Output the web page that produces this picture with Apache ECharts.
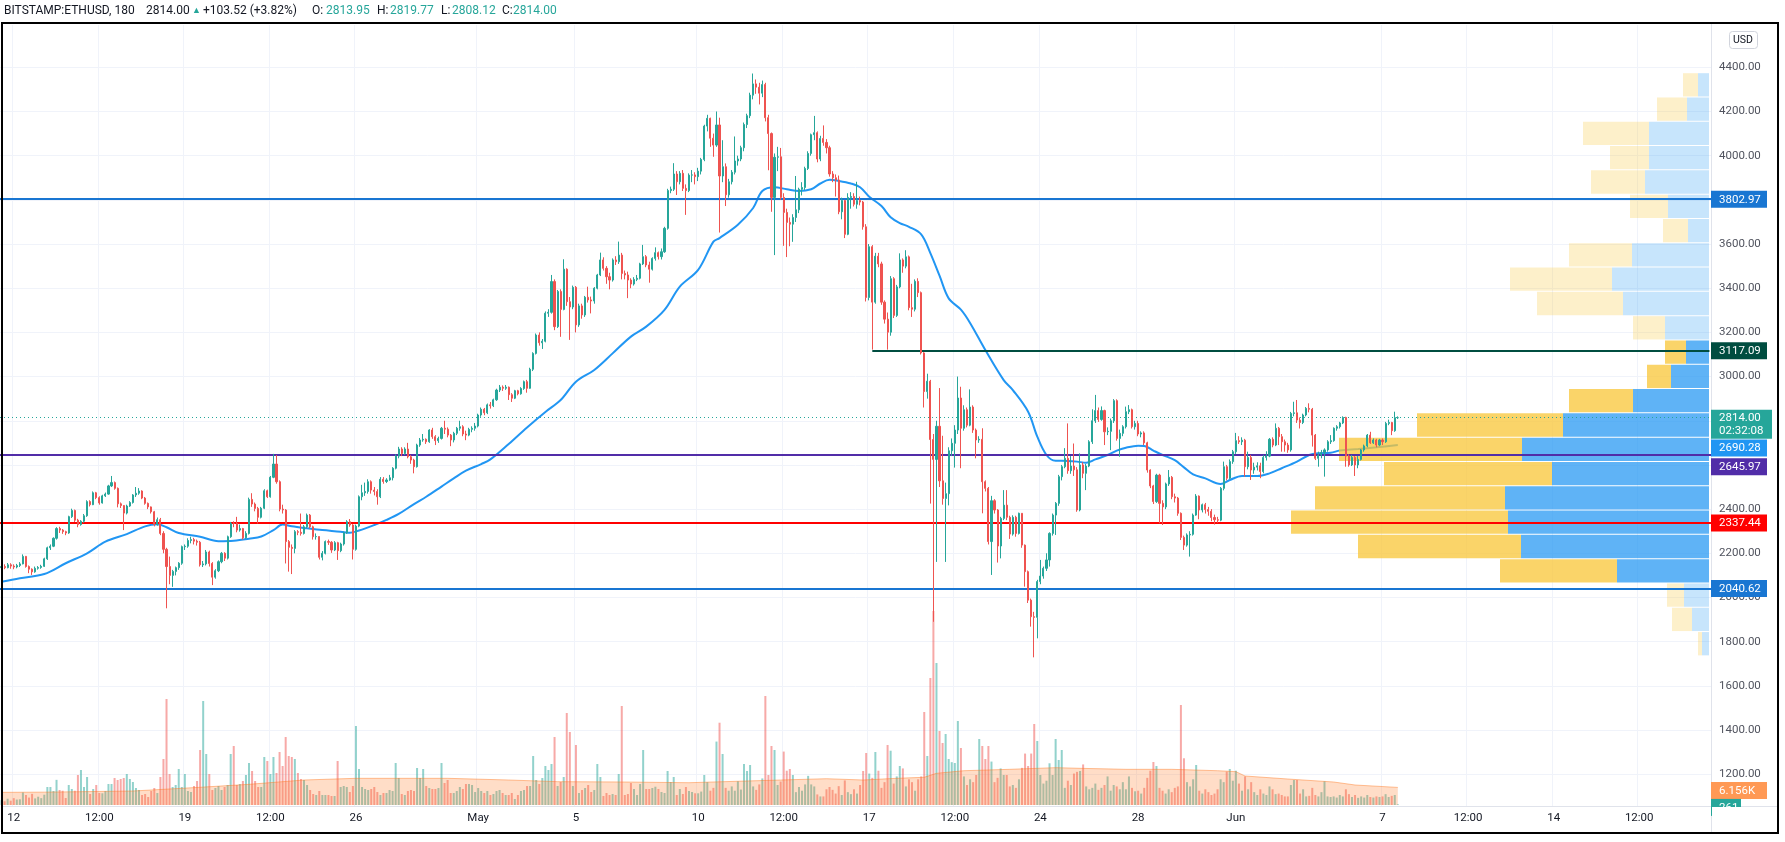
<!DOCTYPE html>
<html><head><meta charset="utf-8">
<script src="https://cdn.jsdelivr.net/npm/echarts@6/dist/echarts.min.js"></script>
<style>html,body{margin:0;padding:0;background:#fff;}#c{width:1785px;height:842px;}</style>
</head><body><div id="c"></div>
<script>
// ---------------- DATA (3h candles, BITSTAMP:ETHUSD) ----------------
const firstBar = -4;          // bar index of first candle (Apr 11 12:00); bar 0 = Apr 12 00:00
const lastSlot = 555;         // last (empty) slot visible on the time axis
const firstOpen = 2135;
const closes = [
2140,2135,2148,2142,
2138,2145,2152,2186,2140,2128,2116,2132,
2136,2141,2175,2225,2232,2268,2312,2305,
2298,2292,2366,2394,2350,2330,2345,2370,
2434,2420,2474,2452,2428,2460,2468,2505,
2520,2494,2424,2416,2382,2414,2430,2464,
2472,2482,2450,2426,2410,2388,2330,2352,
2290,2218,2140,2100,2118,2135,2155,2230,
2232,2258,2262,2255,2250,2148,2152,2206,
2154,2092,2121,2162,2200,2178,2275,2336,
2335,2305,2312,2270,2290,2444,2423,2403,
2363,2404,2483,2456,2544,2604,2524,2400,
2396,2253,2227,2222,2298,2295,2290,2320,
2373,2320,2275,2276,2182,2200,2253,2250,
2215,2248,2212,2242,2293,2343,2328,2218,
2323,2456,2474,2480,2524,2486,2480,2456,
2535,2525,2532,2542,2585,2640,2672,2652,
2672,2637,2622,2592,2690,2713,2716,2705,
2758,2728,2710,2720,2766,2762,2735,2713,
2743,2766,2773,2740,2735,2761,2766,2776,
2826,2852,2836,2872,2868,2895,2939,2952,
2947,2952,2918,2902,2936,2922,2946,2977,
2947,3033,3105,3188,3153,3160,3287,3291,
3430,3226,3385,3304,3486,3339,3315,3404,
3234,3320,3279,3359,3347,3342,3400,3460,
3528,3490,3452,3437,3528,3520,3550,3467,
3460,3437,3419,3440,3445,3510,3543,3505,
3486,3535,3561,3543,3565,3671,3842,3848,
3917,3882,3920,3852,3842,3912,3913,3905,
3930,3983,4134,4169,4079,4048,4139,3908,
3950,3823,3882,3925,3976,3985,4036,4141,
4181,4274,4325,4310,4283,4322,4172,4100,
3811,3993,3995,3811,3743,3698,3690,3720,
3755,3848,3856,3942,4010,4095,4104,3985,
4078,4060,4036,3917,3900,3890,3746,3797,
3644,3811,3815,3780,3797,3790,3678,3358,
3588,3337,3545,3510,3337,3260,3201,3443,
3277,3406,3528,3500,3542,3312,3305,3431,
3380,3107,2932,2979,2715,2625,2775,2528,
2448,2470,2664,2698,2758,2903,2766,2850,
2780,2862,2758,2713,2716,2524,2494,2253,
2438,2396,2233,2358,2418,2363,2287,2363,
2290,2381,2237,2117,1988,1913,1910,2072,
2097,2132,2170,2290,2373,2426,2547,2592,
2630,2574,2595,2578,2396,2600,2562,2595,
2705,2800,2846,2806,2846,2750,2752,2800,
2891,2720,2743,2773,2841,2850,2773,2788,
2740,2745,2700,2577,2505,2434,2554,2426,
2410,2514,2544,2456,2450,2381,2272,2237,
2283,2286,2373,2459,2396,2420,2398,2390,
2362,2352,2350,2494,2592,2540,2615,2660,
2710,2705,2712,2592,2634,2577,2590,2596,
2570,2634,2640,2716,2690,2766,2728,2705,
2690,2668,2833,2836,2803,2792,2826,2856,
2852,2735,2630,2645,2655,2668,2705,2710,
2766,2773,2790,2815,2640,2600,2634,2600,
2625,2668,2686,2735,2700,2713,2690,2713,
2705,2788,2792,2755,2814,2814
];
const highs = [
2152,2150,2156,2155,
2150,2152,2160,2195,2188,2145,2132,2140,
2142,2148,2180,2230,2240,2272,2318,2320,
2310,2302,2370,2402,2398,2356,2350,2378,
2440,2440,2480,2478,2458,2465,2475,2510,
2550,2525,2498,2430,2418,2420,2436,2468,
2500,2495,2485,2455,2430,2412,2392,2362,
2360,2300,2225,2185,2125,2140,2160,2235,
2240,2268,2275,2270,2262,2256,2165,2215,
2212,2160,2128,2168,2206,2205,2280,2342,
2345,2365,2330,2315,2300,2452,2472,2430,
2410,2410,2490,2488,2550,2650,2645,2530,
2420,2400,2260,2240,2305,2305,2380,2328,
2380,2378,2325,2290,2275,2210,2258,2262,
2255,2255,2252,2248,2298,2350,2355,2332,
2330,2462,2510,2520,2535,2530,2500,2490,
2545,2545,2540,2555,2590,2648,2682,2680,
2680,2700,2645,2628,2696,2722,2740,2720,
2762,2768,2735,2728,2772,2800,2770,2740,
2750,2772,2800,2780,2755,2768,2775,2790,
2832,2860,2858,2878,2885,2900,2945,2962,
2960,2962,2955,2925,2940,2940,2952,2982,
2985,3040,3110,3195,3200,3170,3295,3305,
3460,3440,3392,3395,3531,3490,3360,3412,
3410,3330,3330,3365,3407,3362,3405,3465,
3561,3540,3500,3470,3535,3545,3611,3560,
3480,3475,3445,3450,3460,3515,3596,3550,
3520,3540,3585,3566,3580,3678,3850,3860,
3966,3930,3930,3935,3870,3920,3935,3925,
3945,3990,4140,4185,4172,4100,4200,4172,
4070,3965,3895,3935,4087,4000,4045,4150,
4190,4285,4372,4345,4330,4340,4330,4185,
4105,4010,4040,4035,3830,3760,3720,3735,
3908,3855,3880,3950,4020,4100,4180,4110,
4090,4137,4075,4045,3930,3915,3910,3810,
3800,3830,3835,3830,3882,3815,3795,3690,
3600,3595,3560,3560,3520,3345,3290,3455,
3450,3415,3558,3535,3572,3548,3420,3440,
3445,3385,3110,3013,2985,2740,2800,2948,
2732,2520,2680,2720,2780,3000,2954,2870,
2860,2942,2870,2765,2730,2766,2530,2500,
2460,2445,2400,2365,2486,2486,2370,2372,
2370,2384,2381,2240,2122,1995,1935,2080,
2170,2140,2200,2295,2380,2432,2555,2600,
2676,2788,2640,2697,2590,2652,2612,2605,
2712,2852,2917,2860,2865,2850,2770,2810,
2898,2897,2760,2780,2864,2871,2855,2800,
2800,2752,2752,2705,2580,2510,2560,2560,
2440,2520,2577,2550,2470,2455,2385,2280,
2290,2300,2380,2468,2462,2425,2428,2410,
2400,2375,2365,2500,2615,2600,2625,2668,
2745,2730,2725,2718,2660,2645,2610,2612,
2610,2645,2662,2722,2725,2788,2772,2740,
2715,2700,2840,2886,2894,2815,2832,2862,
2879,2858,2740,2660,2668,2675,2712,2735,
2770,2780,2795,2820,2818,2648,2645,2640,
2640,2672,2692,2740,2750,2720,2718,2718,
2720,2795,2805,2795,2841,2819.77
];
const lows = [
2125,2128,2132,2130,
2128,2132,2138,2150,2135,2110,2102,2112,
2126,2130,2138,2170,2215,2228,2262,2292,
2288,2282,2288,2360,2342,2318,2325,2338,
2365,2412,2418,2445,2420,2425,2455,2465,
2500,2488,2408,2405,2305,2376,2410,2425,
2455,2465,2445,2420,2400,2380,2322,2325,
2282,2200,1951,2060,2048,2100,2125,2148,
2215,2225,2245,2240,2235,2140,2138,2145,
2140,2056,2085,2115,2155,2165,2172,2270,
2318,2295,2298,2262,2265,2285,2410,2390,
2335,2358,2400,2450,2452,2540,2515,2390,
2380,2154,2117,2106,2200,2282,2280,2285,
2315,2312,2262,2262,2172,2168,2195,2238,
2202,2210,2170,2205,2235,2288,2320,2172,
2212,2318,2440,2460,2470,2470,2462,2420,
2450,2515,2518,2528,2530,2580,2630,2640,
2645,2630,2605,2562,2588,2682,2705,2695,
2700,2718,2690,2700,2715,2740,2725,2685,
2702,2735,2755,2730,2712,2730,2748,2755,
2770,2818,2825,2830,2855,2862,2890,2930,
2935,2940,2894,2885,2898,2915,2918,2940,
2927,2945,3025,3100,3140,3125,3155,3270,
3285,3210,3220,3180,3300,3320,3166,3305,
3200,3225,3262,3270,3335,3286,3330,3395,
3455,3480,3420,3395,3430,3505,3510,3440,
3440,3355,3400,3412,3432,3440,3505,3495,
3425,3480,3525,3530,3530,3560,3665,3830,
3840,3822,3870,3840,3732,3835,3880,3870,
3885,3915,3975,4110,4040,3995,4040,3652,
3880,3772,3810,3870,3915,3955,3975,4020,
4125,4170,4255,4280,4232,4265,4155,3934,
3746,3550,3930,3800,3592,3541,3590,3610,
3700,3740,3820,3845,3935,4000,4070,3970,
3975,4045,4010,3905,3880,3815,3735,3712,
3627,3640,3760,3770,3760,3775,3665,3340,
3345,3122,3330,3495,3325,3240,3122,3185,
3265,3270,3400,3470,3490,3300,3270,3295,
3360,3100,2860,2900,2425,1890,2161,2500,
2420,2161,2417,2640,2588,2740,2585,2755,
2770,2775,2745,2630,2700,2381,2480,2240,
2102,2380,2158,2177,2350,2350,2265,2280,
2275,2285,2225,2049,1975,1868,1729,1815,
2060,2085,2120,2140,2280,2283,2415,2530,
2585,2560,2560,2550,2388,2390,2540,2486,
2590,2695,2790,2795,2800,2690,2735,2667,
2790,2710,2637,2730,2765,2830,2765,2760,
2730,2725,2690,2565,2495,2423,2428,2336,
2328,2400,2505,2445,2430,2370,2260,2215,
2230,2185,2280,2370,2354,2385,2380,2370,
2345,2330,2338,2345,2485,2530,2535,2605,
2650,2695,2690,2547,2580,2532,2560,2575,
2540,2562,2620,2635,2680,2685,2690,2660,
2660,2655,2660,2820,2790,2765,2785,2820,
2838,2683,2622,2592,2630,2547,2660,2695,
2705,2755,2765,2785,2592,2592,2595,2550,
2585,2620,2660,2680,2695,2695,2680,2685,
2690,2700,2780,2735,2750,2808.12
];
const volumes = [
1700,1300,2200,1500,
2400,1900,2000,4400,3500,2600,3900,2300,
2900,2400,3600,6300,6300,4900,8800,5250,
5000,2450,7000,5600,5000,10500,12250,6300,
9800,3850,5600,7000,4200,4100,4900,7350,
7350,9450,8750,9100,9450,10850,9100,8050,
5950,5250,3500,3850,2800,4900,5950,4200,
9800,16100,37100,10850,6300,7000,12600,6300,
10850,4900,4550,6650,8400,19250,36400,17850,
10850,5250,5950,6650,5250,6300,7000,17850,
20650,7000,7350,8400,10500,14700,11900,8400,
6300,6300,16800,15400,10850,16800,11200,18550,
13650,23800,17150,16800,16100,11200,9100,8750,
7000,5250,3850,3500,4900,3500,3500,3500,
3150,3150,15400,6300,6650,6300,4550,6650,
27650,12600,6300,5600,5250,5600,6300,4550,
3500,4200,4200,5250,4900,14700,9450,3850,
3500,4900,5250,4900,12950,9450,12600,6650,
5950,5600,5600,5950,14700,7700,8750,4200,
4200,4900,6300,5600,7350,7350,7000,4550,
5950,4900,4200,4900,3500,3850,4900,5250,
4200,3500,3500,4200,2100,3500,4900,5250,
6650,6650,17150,8750,7350,9450,13650,12250,
14350,23800,6650,8050,9800,32200,25550,6650,
21000,4200,5250,5950,7000,4550,5250,14350,
9800,3150,4200,3500,3850,3500,10850,34650,
3500,3850,7700,5600,3500,7350,19250,5600,
5600,5950,6400,5600,4550,4200,11900,8050,
9800,3500,5600,3850,6300,4900,4550,4100,
4100,4700,10500,8000,5000,6000,22200,28800,
17850,6000,5000,6500,5000,8300,5400,14350,
11900,14000,6500,5300,7200,9300,38150,10500,
20650,19250,7000,8200,18700,12000,12600,10500,
4500,6300,5000,7200,10200,7200,6500,3700,
3000,3000,5500,6300,5300,4000,6600,3500,
8600,4500,3800,5500,4000,7000,11900,18200,
11000,9500,18550,12000,6000,8000,21000,19000,
7500,10000,13650,12800,6500,9000,8000,5000,
9000,10000,32550,17150,44450,67900,49700,25900,
21700,24850,16100,15000,14700,29400,19950,10000,
7000,9000,8000,10500,23100,20650,16100,20650,
15200,8000,9500,12800,10500,10500,6500,7000,
6000,9000,13000,18000,13650,18000,28350,22400,
10500,7500,8500,14600,10500,23100,15750,19250,
6000,8500,7000,11000,11600,11900,14200,6500,
5500,6000,7500,5300,6000,7000,10000,5000,
7000,6500,5500,8000,5500,10000,6000,4800,
5000,4000,6000,9500,12000,15050,13650,6000,
5000,4000,5500,4500,6000,6500,35000,16350,
8000,6500,9000,14000,5000,4000,5500,4500,
3500,4000,5500,9000,8000,11700,12600,8500,
12000,7500,5000,10000,5500,8000,4500,3500,
5500,4000,3500,6500,5500,3800,4000,3500,
3000,3000,7000,8750,8750,4000,5500,3000,
3200,6000,3500,3000,4500,8300,3000,2800,
3000,2600,3500,3000,5500,3800,2800,3500,
2500,3000,2600,3500,2800,2600,3000,2800,
3000,3800,2800,3200,3500,261
];
// moving average of price : [bar index, value]
const maPoints = [[-4,2071],[2,2087],[10,2106],[17,2155],[24,2200],[30,2253],[37,2287],[43,2322],[47,2331],[50,2318],[54,2292],[61,2275],[67,2255],[72,2257],[77,2266],[81,2276],[85,2305],[88,2330],[91,2322],[96,2313],[101,2305],[107,2298],[110,2293],[113,2303],[118,2328],[122,2351],[126,2378],[131,2423],[135,2456],[140,2502],[144,2539],[148,2574],[153,2604],[156,2625],[162,2695],[168,2770],[174,2840],[179,2894],[184,2977],[190,3030],[196,3105],[202,3181],[207,3226],[213,3302],[218,3407],[224,3483],[229,3611],[231,3627],[237,3687],[242,3763],[245,3840],[249,3857],[253,3848],[257,3840],[261,3848],[264,3874],[267,3891],[270,3886],[274,3874],[277,3857],[280,3814],[284,3772],[287,3721],[290,3695],[293,3678],[297,3644],[300,3559],[303,3457],[306,3354],[310,3303],[313,3243],[318,3120],[324,2984],[327,2939],[332,2841],[335,2728],[338,2645],[341,2619],[345,2618],[348,2615],[351,2610],[354,2625],[358,2645],[361,2665],[364,2678],[368,2687],[370,2686],[373,2665],[376,2645],[380,2622],[383,2589],[386,2557],[390,2539],[395,2514],[398,2532],[402,2550],[407,2550],[411,2562],[415,2585],[420,2615],[424,2645],[427,2653],[431,2655],[434,2665],[440,2672],[446,2680],[453,2690.28]];
// moving average of volume : [bar index, value]
const volMaPoints = [[-4,4430],[10,4500],[39,4900],[61,6200],[77,7240],[95,8750],[112,9340],[142,9340],[162,8750],[178,8170],[200,8050],[221,7800],[251,8750],[266,9200],[278,8750],[289,9340],[298,9700],[302,11090],[311,12000],[326,12490],[341,13070],[349,12840],[364,12490],[379,12490],[394,12000],[400,11670],[403,10150],[417,9100],[432,8050],[439,7000],[453,6156]];
// horizontal levels
const levelPrices = [3802.97, 3117.09, 2645.97, 2337.44, 2040.62];
const levelStartBar = [null, 281, null, null, null];
const maLast = 2690.28;
const volMaLast = 6156;
const countdown = '02:32:08';
// visible-range volume profile rows
const vpRowLow  = [1738,1848,1958,2068,2178,2288,2398,2508,2618,2728,2838,2948,3058,3168,3278,3388,3498,3608,3718,3828,3938,4048,4158,4268];
const vpRowHigh = [1848,1958,2068,2178,2288,2398,2508,2618,2728,2838,2948,3058,3168,3278,3388,3498,3608,3718,3828,3938,4048,4158,4268,4378];
const vpDown = [4,20,17,117,163,217,190,168,183,146,64,24,21,32,86,102,63,25,38,54,39,66,30,15];
const vpUp   = [7,17,25,92,188,201,204,157,187,146,76,38,23,44,86,97,77,21,41,64,60,60,22,11];
const vpValueArea = [0,0,0,1,1,1,1,1,1,1,1,1,1,0,0,0,0,0,0,0,0,0,0,0];
// time axis tick labels
const tickBars  = [0,28,56,84,112,152,184,224,252,280,308,336,368,400,448,476,504,532];
const tickTexts = ['12','12:00','19','12:00','26','May','5','10','12:00','17','12:00','24','28','Jun','7','12:00','14','12:00'];
// header
const headerSymbol = 'BITSTAMP:ETHUSD, 180';
const headerLast = '2814.00';
const headerChange = '+103.52 (+3.82%)';
const headerO = '2813.95', headerH = '2819.77', headerL = '2808.12', headerC = '2814.00';

// ---------------- BUILD ----------------
const UP = '#26A69A', DN = '#EF5350';
const FONT = 'Roboto, "Liberation Sans", Arial, sans-serif';
const cats = [];
for (let i = firstBar; i <= lastSlot; i++) cats.push(String(i));
const kOf = i => i - firstBar;
const N = closes.length;
const candleData = [], volData = [];
for (let k = 0; k < N; k++) {
  const o = k === 0 ? firstOpen : closes[k - 1];
  const c = closes[k];
  const h = Math.max(highs[k], o, c), l = Math.min(lows[k], o, c);
  candleData.push([o, c, l, h]);
  volData.push({ value: volumes[k], itemStyle: { color: c >= o ? 'rgba(38,166,154,0.5)' : 'rgba(239,83,80,0.5)' } });
}
const tickMap = {};
tickBars.forEach((b, j) => { tickMap[kOf(b)] = tickTexts[j]; });
const isTick = idx => tickMap[idx] !== undefined;

const vpData = vpRowLow.map((lo, j) => [lo, vpRowHigh[j], vpDown[j], vpUp[j], vpValueArea[j]]);

const lastClose = closes[N - 1];
const lineStyles = [
  { color: '#1976D2', width: 2 }, { color: '#004D40', width: 2 }, { color: '#512DA8', width: 2 },
  { color: '#FF0000', width: 2 }, { color: '#1976D2', width: 2 }
];
const markData = levelPrices.map((p, j) => {
  if (levelStartBar[j] != null) {
    return [{ coord: [kOf(levelStartBar[j]), p], lineStyle: Object.assign({ type: 'solid' }, lineStyles[j]) },
            { coord: [cats.length - 1, p] }];
  }
  return { yAxis: p, lineStyle: Object.assign({ type: 'solid' }, lineStyles[j]) };
});
markData.push({ yAxis: lastClose, lineStyle: { color: '#26A69A', width: 1, type: [1, 3] } });

const yMax = 4591.56, yMin = 1056.02;

const option = {
  animation: false,
  backgroundColor: '#ffffff',
  grid: [
    { left: 0, top: 25, width: 1711, height: 781 },
    { left: 0, top: 67.32, width: 1711, height: 706.88 },
    { left: 0, top: 25, width: 1711, height: 780 }
  ],
  xAxis: [
    { type: 'category', gridIndex: 0, data: cats, boundaryGap: true,
      axisLine: { show: false }, axisTick: { show: false },
      axisLabel: { interval: (i) => isTick(i), formatter: (v, i) => tickMap[i] || '', color: '#131722',
                   fontFamily: FONT, fontSize: 11.5, margin: 6 },
      splitLine: { show: true, interval: (i) => isTick(i), lineStyle: { color: '#F0F3FA', width: 1 } } },
    { type: 'value', gridIndex: 0, min: -2, max: 1709, inverse: true, show: false },
    { type: 'category', gridIndex: 2, data: cats, boundaryGap: true, show: false },
    { type: 'value', gridIndex: 1, min: 0, max: 1, show: false }
  ],
  yAxis: [
    { type: 'value', gridIndex: 0, min: yMin, max: yMax, show: false, scale: true },
    { type: 'value', gridIndex: 1, min: 1200, max: 4400, interval: 200, position: 'right',
      axisLine: { show: false }, axisTick: { show: false },
      axisLabel: { color: '#50535E', fontFamily: FONT, fontSize: 11.5, margin: 8, formatter: v => v.toFixed(2) },
      splitLine: { show: true, lineStyle: { color: '#F0F3FA', width: 1 } } },
    { type: 'value', gridIndex: 2, min: 0, max: 273000, show: false }
  ],
  series: [
    { type: 'bar', name: 'Volume', xAxisIndex: 2, yAxisIndex: 2, data: volData, barWidth: 2, z: 1, silent: true },
    { type: 'line', name: 'Volume MA', xAxisIndex: 2, yAxisIndex: 2, z: 2, silent: true,
      data: volMaPoints.map(([i, v]) => [kOf(i), v]), showSymbol: false,
      lineStyle: { color: 'rgba(255,120,30,0.45)', width: 1 }, areaStyle: { color: 'rgba(255,120,30,0.36)' } },
    { type: 'line', name: 'MA', xAxisIndex: 0, yAxisIndex: 0, z: 2, silent: true,
      data: maPoints.map(([i, v]) => [kOf(i), v]), showSymbol: false, smooth: 0.35,
      lineStyle: { color: '#2196F3', width: 2 } },
    { type: 'custom', name: 'VPVR', xAxisIndex: 1, yAxisIndex: 0, z: 3, silent: true, data: vpData,
      encode: { x: [2, 3], y: [0, 1] },
      renderItem: (params, api) => {
        const lo = api.value(0), hi = api.value(1), dn = api.value(2), up = api.value(3), va = api.value(4);
        const pLo = api.coord([0, lo]), pHi = api.coord([0, hi]);
        const xr = pLo[0];
        const xu = api.coord([up, lo])[0];
        const xd = api.coord([up + dn, lo])[0];
        const y = pHi[1] + 1, h = pLo[1] - pHi[1] - 1;
        return { type: 'group', children: [
          { type: 'rect', shape: { x: xu, y: y, width: xr - xu, height: h },
            style: { fill: va ? 'rgba(33,150,243,0.72)' : 'rgba(33,150,243,0.25)' } },
          { type: 'rect', shape: { x: xd, y: y, width: xu - xd, height: h },
            style: { fill: va ? 'rgba(249,198,58,0.76)' : 'rgba(249,198,58,0.27)' } }
        ] };
      } },
    { type: 'candlestick', name: 'ETHUSD', xAxisIndex: 0, yAxisIndex: 0, z: 5, silent: true,
      data: candleData, barWidth: 1.6,
      itemStyle: { color: UP, color0: DN, borderColor: UP, borderColor0: DN, borderWidth: 1 },
      markLine: { symbol: ['none', 'none'], silent: true, animation: false, label: { show: false },
                  emphasis: { disabled: true }, data: markData } }
  ]
};

const chart = echarts.init(document.getElementById('c'), null, { renderer: 'canvas', width: 1785, height: 842 });
chart.setOption(option);

// ---------------- overlay: price-scale labels, header, frame ----------------
const py = v => chart.convertToPixel({ yAxisIndex: 0 }, v);
const vy = v => chart.convertToPixel({ yAxisIndex: 2 }, v);
const g = [];
function txt(x, y, s, color, size, extra) {
  return Object.assign({ type: 'text', x: x, y: y, z: 101,
    style: { text: s, fill: color, font: (size || 12) + 'px ' + FONT, textVerticalAlign: 'middle', verticalAlign: 'middle', textAlign: 'left', align: 'left' } }, extra || {});
}
function box(cy, text, bg, w) {
  g.push({ type: 'rect', z: 100, shape: { x: 1711, y: cy - 8.5, width: w || 56, height: 17 }, style: { fill: bg } });
  g.push(txt(1719, cy + 0.5, text, '#ffffff', 11.5));
}
// separators and frame
g.push({ type: 'line', z: 90, shape: { x1: 1711.5, y1: 23, x2: 1711.5, y2: 833 }, style: { stroke: '#E0E3EB', lineWidth: 1 } });
g.push({ type: 'line', z: 90, shape: { x1: 2, y1: 806.5, x2: 1778, y2: 806.5 }, style: { stroke: '#E0E3EB', lineWidth: 1 } });

box(py(levelPrices[0]), levelPrices[0].toFixed(2), '#1976D2');
box(py(levelPrices[1]), levelPrices[1].toFixed(2), '#004D40');
// current price (two lines)
const cy0 = py(lastClose);
g.push({ type: 'rect', z: 100, shape: { x: 1711, y: cy0 - 8, width: 61, height: 29 }, style: { fill: '#26A69A' } });
g.push(txt(1719, cy0 + 0.5, lastClose.toFixed(2), '#ffffff', 11.5));
g.push(txt(1719, cy0 + 13.5, countdown, '#ffffff', 11.5));
box(py(maLast) + 3, maLast.toFixed(2), '#2196F3');
box(py(levelPrices[2]) + 12, levelPrices[2].toFixed(2), '#512DA8');
box(py(levelPrices[3]), levelPrices[3].toFixed(2), '#FF0000');
box(py(levelPrices[4]), levelPrices[4].toFixed(2), '#1976D2');
box(vy(volMaLast) + 3, (volMaLast / 1000).toFixed(3) + 'K', '#FF9955');
box(vy(volMaLast) + 20, String(volumes[N - 1]), '#26A69A', 30);
g.push({ type: 'rect', z: 102, shape: { x: 1712, y: 807, width: 66, height: 26 }, style: { fill: '#ffffff' } });

// USD button
g.push({ type: 'rect', z: 100, shape: { x: 1729.5, y: 31.5, width: 28, height: 17, r: 3 }, style: { fill: '#ffffff', stroke: '#D1D4DC', lineWidth: 1 } });
g.push(txt(1733, 40.5, 'USD', '#131722', 10.5));

// header legend
const hy = 10.5;
g.push(txt(4, hy, headerSymbol, '#131722', 12));
g.push(txt(146, hy, headerLast, '#131722', 12));
g.push(txt(192, hy, '\u25B2', '#26A69A', 9));
g.push(txt(203, hy, headerChange, '#131722', 12));
g.push(txt(312, hy, 'O:', '#131722', 12));
g.push(txt(326, hy, headerO, '#26A69A', 12));
g.push(txt(377, hy, 'H:', '#131722', 12));
g.push(txt(390, hy, headerH, '#26A69A', 12));
g.push(txt(441, hy, 'L:', '#131722', 12));
g.push(txt(452, hy, headerL, '#26A69A', 12));
g.push(txt(502, hy, 'C:', '#131722', 12));
g.push(txt(513, hy, headerC, '#26A69A', 12));

// outer frame
g.push({ type: 'rect', z: 110, shape: { x: 2, y: 23, width: 1776, height: 810 }, style: { fill: 'none', stroke: '#000000', lineWidth: 2 } });

chart.setOption({ graphic: g });
</script>
</body></html>
